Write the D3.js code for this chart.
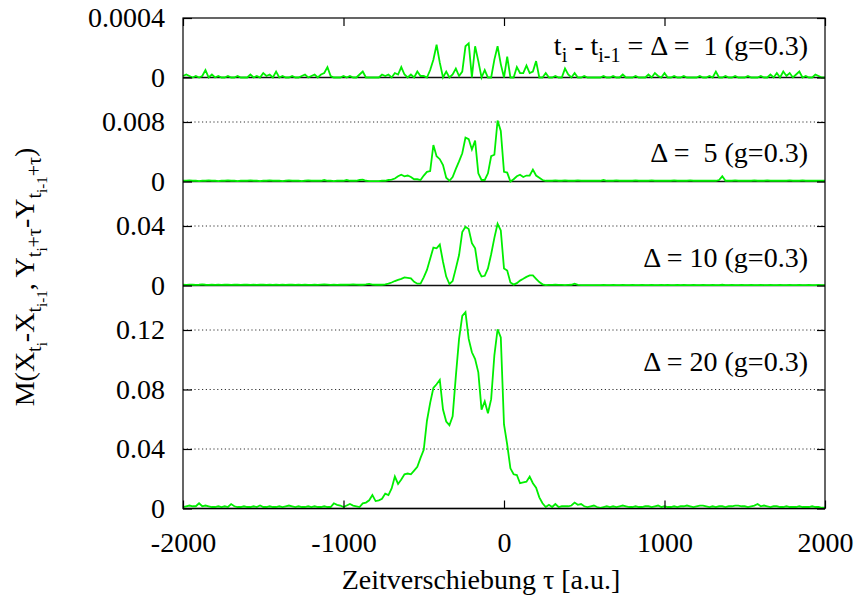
<!DOCTYPE html>
<html>
<head>
<meta charset="utf-8">
<script src="https://cdn.jsdelivr.net/npm/d3@7"></script>
</head>
<body style="margin:0; font-family: 'Times New Roman', 'Liberation Serif', serif">
<div id="container" style="font-family: 'Times New Roman', 'Liberation Serif', serif"></div>
<script>
let w = 856;
let h = 599;

// DATA (tau grid -2000..2000, step 20)
let tau = d3.range(-2000, 2001, 20);

let delta1 = [
  0.00001, 0.00002, 0.00001, 0.0, 0.00001, 0.0, 0.00001, 0.00005, 0.0, 0.00002,
  0.0, 0.00001, 0.0, 0.0, 0.00001, 0.0, 0.0, 0.00001, 0.0, 0.0,
  0.0, 0.00002, 0.0, 0.00001, 0.0, 0.00003, 0.00001, 0.00002, 0.0, 0.00004,
  0.0, 0.00001, 0.0, 0.0, 0.00001, 0.0, 0.0, 0.00001, 0.00002, 0.0,
  0.00001, 0.00002, 0.0, 0.00002, 0.00003, 0.00007, 0.00001, 0.0, 0.0, 0.0,
  0.00001, 0.0, 0.00001, 0.0, 0.0, 0.00002, 0.00004, 0.0, 0.0, 0.0,
  0.0, 0.0, 0.00002, 0.00001, 0.00002, 0.0, 0.00003, 0.00002, 0.00007, 0.00002,
  0.0, 0.00002, 0.0, 0.00004, 0.00001, 0.00001, 0.0, 0.00005, 0.00012, 0.00022,
  0.0001, 0.0, 0.00004, 0.0, 0.00002, 0.00006, 0.00001, 0.00004, 0.00021, 0.00023,
  0.0, 0.00021, 0.00011, 0.0, 0.00005, 0.0, 0.0, 0.00012, 0.00021, 0.00009,
  0.0, 0.00014, 0.0, 0.0, 0.00007, 0.00003, 0.00003, 0.00008, 0.00003, 0.00004,
  0.00011, 0.0, 0.0, 0.00003, 0.0, 0.0, 0.00001, 0.0, 0.0, 0.00006,
  0.00002, 0.0, 0.00003, 0.0, 0.0, 0.00001, 0.0, 0.0, 0.0, 0.0,
  0.0, 0.00001, 0.0, 0.0, 0.00001, 0.0, 0.0, 0.00002, 0.0, 0.0,
  0.0, 0.00001, 0.0, 0.0, 0.0, 0.00002, 0.0, 0.00003, 0.00001, 0.0,
  0.00003, 0.0, 0.0, 0.00001, 0.0, 0.0, 0.00001, 0.0, 0.0, 0.0,
  0.0, 0.00001, 0.0, 0.0, 0.00001, 0.0, 0.00004, 0.0, 0.0, 0.00001,
  0.0, 0.0, 0.00001, 0.0, 0.0, 0.0, 0.00001, 0.0, 0.0, 0.0,
  0.00001, 0.0, 0.0, 0.00002, 0.0, 0.00003, 0.0, 0.00004, 0.00001, 0.00003,
  0.0, 0.00002, 0.00004, 0.0, 0.00001, 0.0, 0.0, 0.00002, 0.00001, 0.0,
  0.0
];

let delta5 = [
  0.0001, 0.0001, 0.00015, 0.0001, 0.0001, 0.00005, 0.0001, 0.0001, 0.00015, 0.0001,
  0.0001, 0.00005, 0.0001, 0.0001, 0.00015, 0.0001, 0.0001, 0.00005, 0.0001, 0.0001,
  0.0001, 0.00015, 0.0001, 0.0001, 0.00005, 0.0001, 0.0001, 0.00015, 0.0001, 0.0001,
  0.0001, 0.00005, 0.0001, 0.00015, 0.0001, 0.0001, 0.0001, 0.00005, 0.0001, 0.00015,
  0.0001, 0.0001, 0.0001, 0.0001, 0.0002, 0.0001, 0.0001, 0.00005, 0.0001, 0.0001,
  0.0001, 0.0002, 0.0001, 0.0001, 0.0001, 0.0002, 0.00025, 0.0001, 0.00005, 0.00005,
  0.00005, 0.00005, 0.0001, 0.0001, 0.0002, 0.00025, 0.0004, 0.0007, 0.0009, 0.0007,
  0.0008, 0.0006, 0.0003, 0.0003, 0.0002, 0.0008, 0.0013, 0.0014, 0.0049, 0.0034,
  0.003, 0.0022, 0.0005, 0.0001, 0.0006, 0.0017, 0.0027, 0.0038, 0.0059, 0.0057,
  0.0043, 0.0055, 0.0011, 0.0002, 0.0002, 0.0011, 0.0034, 0.0036, 0.0082, 0.0068,
  0.0013, 0.0012, 0.0, 0.0003, 0.0007, 0.0009, 0.0006, 0.0008, 0.0008, 0.0016,
  0.0008, 0.0005, 0.0002, 0.0001, 0.0001, 0.0001, 0.00015, 0.0001, 0.0001, 0.00015,
  0.0001, 0.0001, 0.0001, 0.00015, 0.0001, 0.0001, 0.0001, 0.0001, 0.0001, 0.0001,
  0.0001, 0.0002, 0.0001, 0.0001, 0.0001, 0.00015, 0.0001, 0.0001, 0.0001, 0.0001,
  0.0001, 0.00015, 0.0001, 0.0001, 0.0001, 0.0001, 0.00015, 0.0001, 0.0001, 0.0001,
  0.0001, 0.0001, 0.0001, 0.00015, 0.0001, 0.0001, 0.0001, 0.0001, 0.00015, 0.0001,
  0.0001, 0.0001, 0.0001, 0.0001, 0.0001, 0.0001, 0.0001, 0.0002, 0.0007, 0.0001,
  0.0001, 0.0001, 0.00015, 0.0001, 0.0001, 0.0001, 0.0001, 0.0001, 0.00015, 0.0001,
  0.0001, 0.0001, 0.00015, 0.0001, 0.0001, 0.0001, 0.0001, 0.0001, 0.0001, 0.00015,
  0.0001, 0.0001, 0.0001, 0.00015, 0.0001, 0.0001, 0.0001, 0.0001, 0.0001, 0.0001,
  0.0001
];

let delta10 = [
  0.0005, 0.0004, 0.0006, 0.0005, 0.0004, 0.0005, 0.0008, 0.0005, 0.0004, 0.0005,
  0.0004, 0.0005, 0.0004, 0.0006, 0.0005, 0.0004, 0.0005, 0.0005, 0.0004, 0.0005,
  0.0005, 0.0004, 0.0005, 0.0004, 0.0005, 0.0006, 0.0004, 0.0005, 0.0004, 0.0005,
  0.0004, 0.0005, 0.0004, 0.0005, 0.0005, 0.0004, 0.0005, 0.0004, 0.0005, 0.0004,
  0.0004, 0.0005, 0.0004, 0.0006, 0.0008, 0.0006, 0.0004, 0.0005, 0.0004, 0.0005,
  0.0005, 0.0005, 0.0006, 0.0008, 0.0006, 0.0005, 0.0005, 0.0007, 0.0011, 0.0006,
  0.0005, 0.0006, 0.0005, 0.0008, 0.0012, 0.002, 0.003, 0.0038, 0.0045, 0.0055,
  0.0052, 0.0048, 0.0025, 0.0012, 0.0012, 0.0055, 0.0105, 0.018, 0.0255, 0.025,
  0.0275, 0.016, 0.006, 0.001, 0.003, 0.0115, 0.0205, 0.036, 0.0395, 0.038,
  0.0285, 0.025, 0.0105, 0.006, 0.0065, 0.0115, 0.021, 0.032, 0.0415, 0.037,
  0.0115, 0.010, 0.002, 0.0006, 0.0016, 0.0033, 0.0045, 0.0058, 0.0068, 0.0068,
  0.0045, 0.0023, 0.0008, 0.0002, 0.0004, 0.0004, 0.0005, 0.0004, 0.0004, 0.0003,
  0.0004, 0.0005, 0.0012, 0.0004, 0.0003, 0.0003, 0.0002, 0.0003, 0.0003, 0.0003,
  0.0003, 0.0004, 0.0003, 0.0003, 0.0004, 0.0003, 0.0003, 0.0004, 0.0003, 0.0003,
  0.0004, 0.0003, 0.0003, 0.0004, 0.0003, 0.0003, 0.0004, 0.0003, 0.0003, 0.0004,
  0.0003, 0.0004, 0.0003, 0.0003, 0.0004, 0.0003, 0.0004, 0.0003, 0.0003, 0.0004,
  0.0003, 0.0003, 0.0004, 0.0003, 0.0003, 0.0004, 0.0003, 0.0003, 0.0005, 0.0003,
  0.0003, 0.0004, 0.0003, 0.0003, 0.0004, 0.0003, 0.0003, 0.0004, 0.0003, 0.0003,
  0.0004, 0.0003, 0.0003, 0.0004, 0.0003, 0.0003, 0.0004, 0.0003, 0.0003, 0.0004,
  0.0003, 0.0003, 0.0004, 0.0003, 0.0003, 0.0004, 0.0003, 0.0003, 0.0004, 0.0003,
  0.0003
];

let delta20 = [
  0.001, 0.0015, 0.002, 0.0015, 0.0015, 0.0035, 0.0015, 0.002, 0.0015, 0.001,
  0.001, 0.0015, 0.001, 0.0015, 0.001, 0.003, 0.0015, 0.001, 0.001, 0.0015,
  0.001, 0.001, 0.0015, 0.001, 0.002, 0.001, 0.001, 0.0015, 0.001, 0.001,
  0.0015, 0.001, 0.0015, 0.002, 0.0015, 0.001, 0.0015, 0.001, 0.001, 0.0015,
  0.001, 0.0015, 0.001, 0.001, 0.0015, 0.001, 0.001, 0.0035, 0.0025, 0.002,
  0.001, 0.002, 0.003, 0.002, 0.0015, 0.001, 0.0035, 0.004, 0.0055, 0.009,
  0.005, 0.0055, 0.0065, 0.010, 0.009, 0.0135, 0.0215, 0.0165, 0.0195, 0.023,
  0.0235, 0.023, 0.0255, 0.028, 0.034, 0.0395, 0.059, 0.071, 0.081, 0.0835,
  0.0865, 0.0665, 0.0585, 0.056, 0.062, 0.089, 0.114, 0.1295, 0.132, 0.114,
  0.105, 0.1005, 0.0915, 0.0665, 0.072, 0.064, 0.0735, 0.103, 0.1205, 0.115,
  0.0565, 0.043, 0.027, 0.023, 0.0225, 0.017, 0.0175, 0.018, 0.0215, 0.017,
  0.014, 0.0075, 0.0035, 0.001, 0.0025, 0.001, 0.003, 0.001, 0.0015, 0.0015,
  0.0015, 0.002, 0.004, 0.0025, 0.003, 0.0015, 0.001, 0.0015, 0.002, 0.001,
  0.0005, 0.001, 0.0015, 0.001, 0.0015, 0.001, 0.0015, 0.002, 0.0015, 0.001,
  0.001, 0.0015, 0.001, 0.001, 0.0015, 0.0015, 0.001, 0.0015, 0.002, 0.001,
  0.0015, 0.001, 0.001, 0.0015, 0.001, 0.0015, 0.0015, 0.002, 0.0015, 0.001,
  0.0015, 0.002, 0.002, 0.0015, 0.001, 0.0015, 0.001, 0.0015, 0.0015, 0.001,
  0.0015, 0.0015, 0.002, 0.002, 0.0015, 0.0015, 0.001, 0.0015, 0.002, 0.003,
  0.0015, 0.002, 0.0015, 0.001, 0.0015, 0.0015, 0.001, 0.001, 0.0015, 0.001,
  0.001, 0.001, 0.0015, 0.001, 0.001, 0.001, 0.0015, 0.001, 0.001, 0.0005,
  0.0005
];

let seriesList = [delta1, delta5, delta10, delta20];
let panelMax = [0.0004, 0.008, 0.04, 0.12];
let panelTicks = [[0, 0.0004], [0, 0.008], [0, 0.04], [0, 0.04, 0.08, 0.12]];
let legendText = [" = \u0394 =  1 (g=0.3)", "\u0394 =  5 (g=0.3)", "\u0394 = 10 (g=0.3)", "\u0394 = 20 (g=0.3)"];
let xTicks = [-2000, -1000, 0, 1000, 2000];

// LAYOUT
let plotLeft = 183;
let plotRight = 825;
let plotTop = 18;
let plotBottom = 508.5;
let panelZero = [77.5, 181.5, 285.5, 508.5];
let panelTop = [18, 122, 226, 330];
let legendY = [55, 162, 267, 371];
let green = "#00ee00";
let serifFont = "Times New Roman";

// SVG
let viz = d3.select("#container").append("svg")
    .attr("width", w)
    .attr("height", h)
    .attr("font-family", serifFont)
;

let x = d3.scaleLinear().domain([-2000, 2000]).range([plotLeft, plotRight]);

let fmt = (d) => d === 0 ? "0" : String(d);

seriesList.forEach((series, i) => {
  let y = d3.scaleLinear().domain([0, panelMax[i]]).range([panelZero[i], panelTop[i]]);

  // DOTTED GRID (skip 0 and the frame top)
  let gridVals = panelTicks[i].filter(v => v !== 0 && y(v) > plotTop + 1);
  viz.selectAll(".grid" + i).data(gridVals).enter()
    .append("line")
      .attr("class", "grid" + i)
      .attr("x1", plotLeft)
      .attr("x2", plotRight)
      .attr("y1", d => y(d))
      .attr("y2", d => y(d))
      .attr("stroke", "#333")
      .attr("stroke-width", 1)
      .attr("stroke-dasharray", "1.2,2.6")
  ;

  // ZERO LINE
  viz.append("line")
    .attr("x1", plotLeft).attr("x2", plotRight)
    .attr("y1", y(0)).attr("y2", y(0))
    .attr("stroke", "#111")
    .attr("stroke-width", 1.4)
  ;

  // DATA LINE
  let lineMaker = d3.line()
    .x((d, j) => x(tau[j]))
    .y(d => y(d));
  viz.append("path")
    .datum(series)
    .attr("d", lineMaker)
    .attr("fill", "none")
    .attr("stroke", green)
    .attr("stroke-width", 1.8)
  ;

  // LEFT AXIS (inward ticks)
  let leftAxis = d3.axisLeft(y).tickValues(panelTicks[i]).tickSize(-9).tickPadding(18).tickFormat(fmt);
  let g = viz.append("g").attr("transform", `translate(${plotLeft},0)`).call(leftAxis);
  g.select(".domain").remove();

  // RIGHT AXIS TICKS
  let rightAxis = d3.axisRight(y).tickValues(panelTicks[i]).tickSize(-8).tickFormat("");
  let gr = viz.append("g").attr("transform", `translate(${plotRight},0)`).call(rightAxis);
  gr.select(".domain").remove();

  // LEGEND
  let leg = viz.append("text")
    .attr("x", 808)
    .attr("y", legendY[i])
    .attr("text-anchor", "end")
  ;
  if (i == 0) {
    leg.append("tspan").text("t");
    leg.append("tspan").text("i").attr("dy", 7).style("font-size", "20px");
    leg.append("tspan").text(" - t").attr("dy", -7);
    leg.append("tspan").text("i-1").attr("dy", 7).style("font-size", "20px");
    leg.append("tspan").text(legendText[i]).attr("dy", -7);
  } else {
    leg.append("tspan").text(legendText[i]);
  }
});

// X AXES
let bottomAxis = d3.axisBottom(x).tickValues(xTicks).tickSize(-8).tickPadding(24).tickFormat(d => String(d));
let gb = viz.append("g").attr("transform", `translate(0,${plotBottom})`).call(bottomAxis);
gb.select(".domain").remove();

let topAxis = d3.axisTop(x).tickValues(xTicks).tickSize(-8).tickFormat("");
let gt = viz.append("g").attr("transform", `translate(0,${plotTop})`).call(topAxis);
gt.select(".domain").remove();

viz.selectAll(".tick line").attr("stroke", "black").attr("stroke-width", 1.2);

// FRAME
viz.append("rect")
  .attr("x", plotLeft)
  .attr("y", plotTop)
  .attr("width", plotRight - plotLeft)
  .attr("height", plotBottom - plotTop)
  .attr("fill", "none")
  .attr("stroke", "black")
  .attr("stroke-width", 1.2)
;

// AXIS TITLES
viz.append("text")
  .attr("x", (plotLeft + plotRight) / 2 - 23)
  .attr("y", 589)
  .attr("text-anchor", "middle")
  .text("Zeitverschiebung \u03c4 [a.u.]")
;

let ylab = viz.append("text")
  .attr("transform", "translate(34,277) rotate(-90)")
  .attr("text-anchor", "middle")
;
let sizes = [28, 20, 15];
let offs = [0, 7, 13];
let pieces = [["M(X", 0], ["t", 1], ["i", 2], ["-X", 0], ["t", 1], ["i-1", 2], [", Y", 0], ["t", 1], ["i", 2], ["+\u03c4", 1],
  ["-Y", 0], ["t", 1], ["i-1", 2], ["+\u03c4", 1], [")", 0]];
let prev = 0;
pieces.forEach(p => {
  ylab.append("tspan")
    .text(p[0])
    .attr("dy", offs[p[1]] - offs[prev])
    .style("font-size", sizes[p[1]] + "px");
  prev = p[1];
});

// FONT FOR ALL TEXT
viz.selectAll("g").attr("font-family", serifFont);
viz.selectAll("text")
  .attr("font-family", serifFont)
  .style("font-size", "28px")
  .style("white-space", "pre")
  .attr("fill", "black")
;
</script>
</body>
</html>
